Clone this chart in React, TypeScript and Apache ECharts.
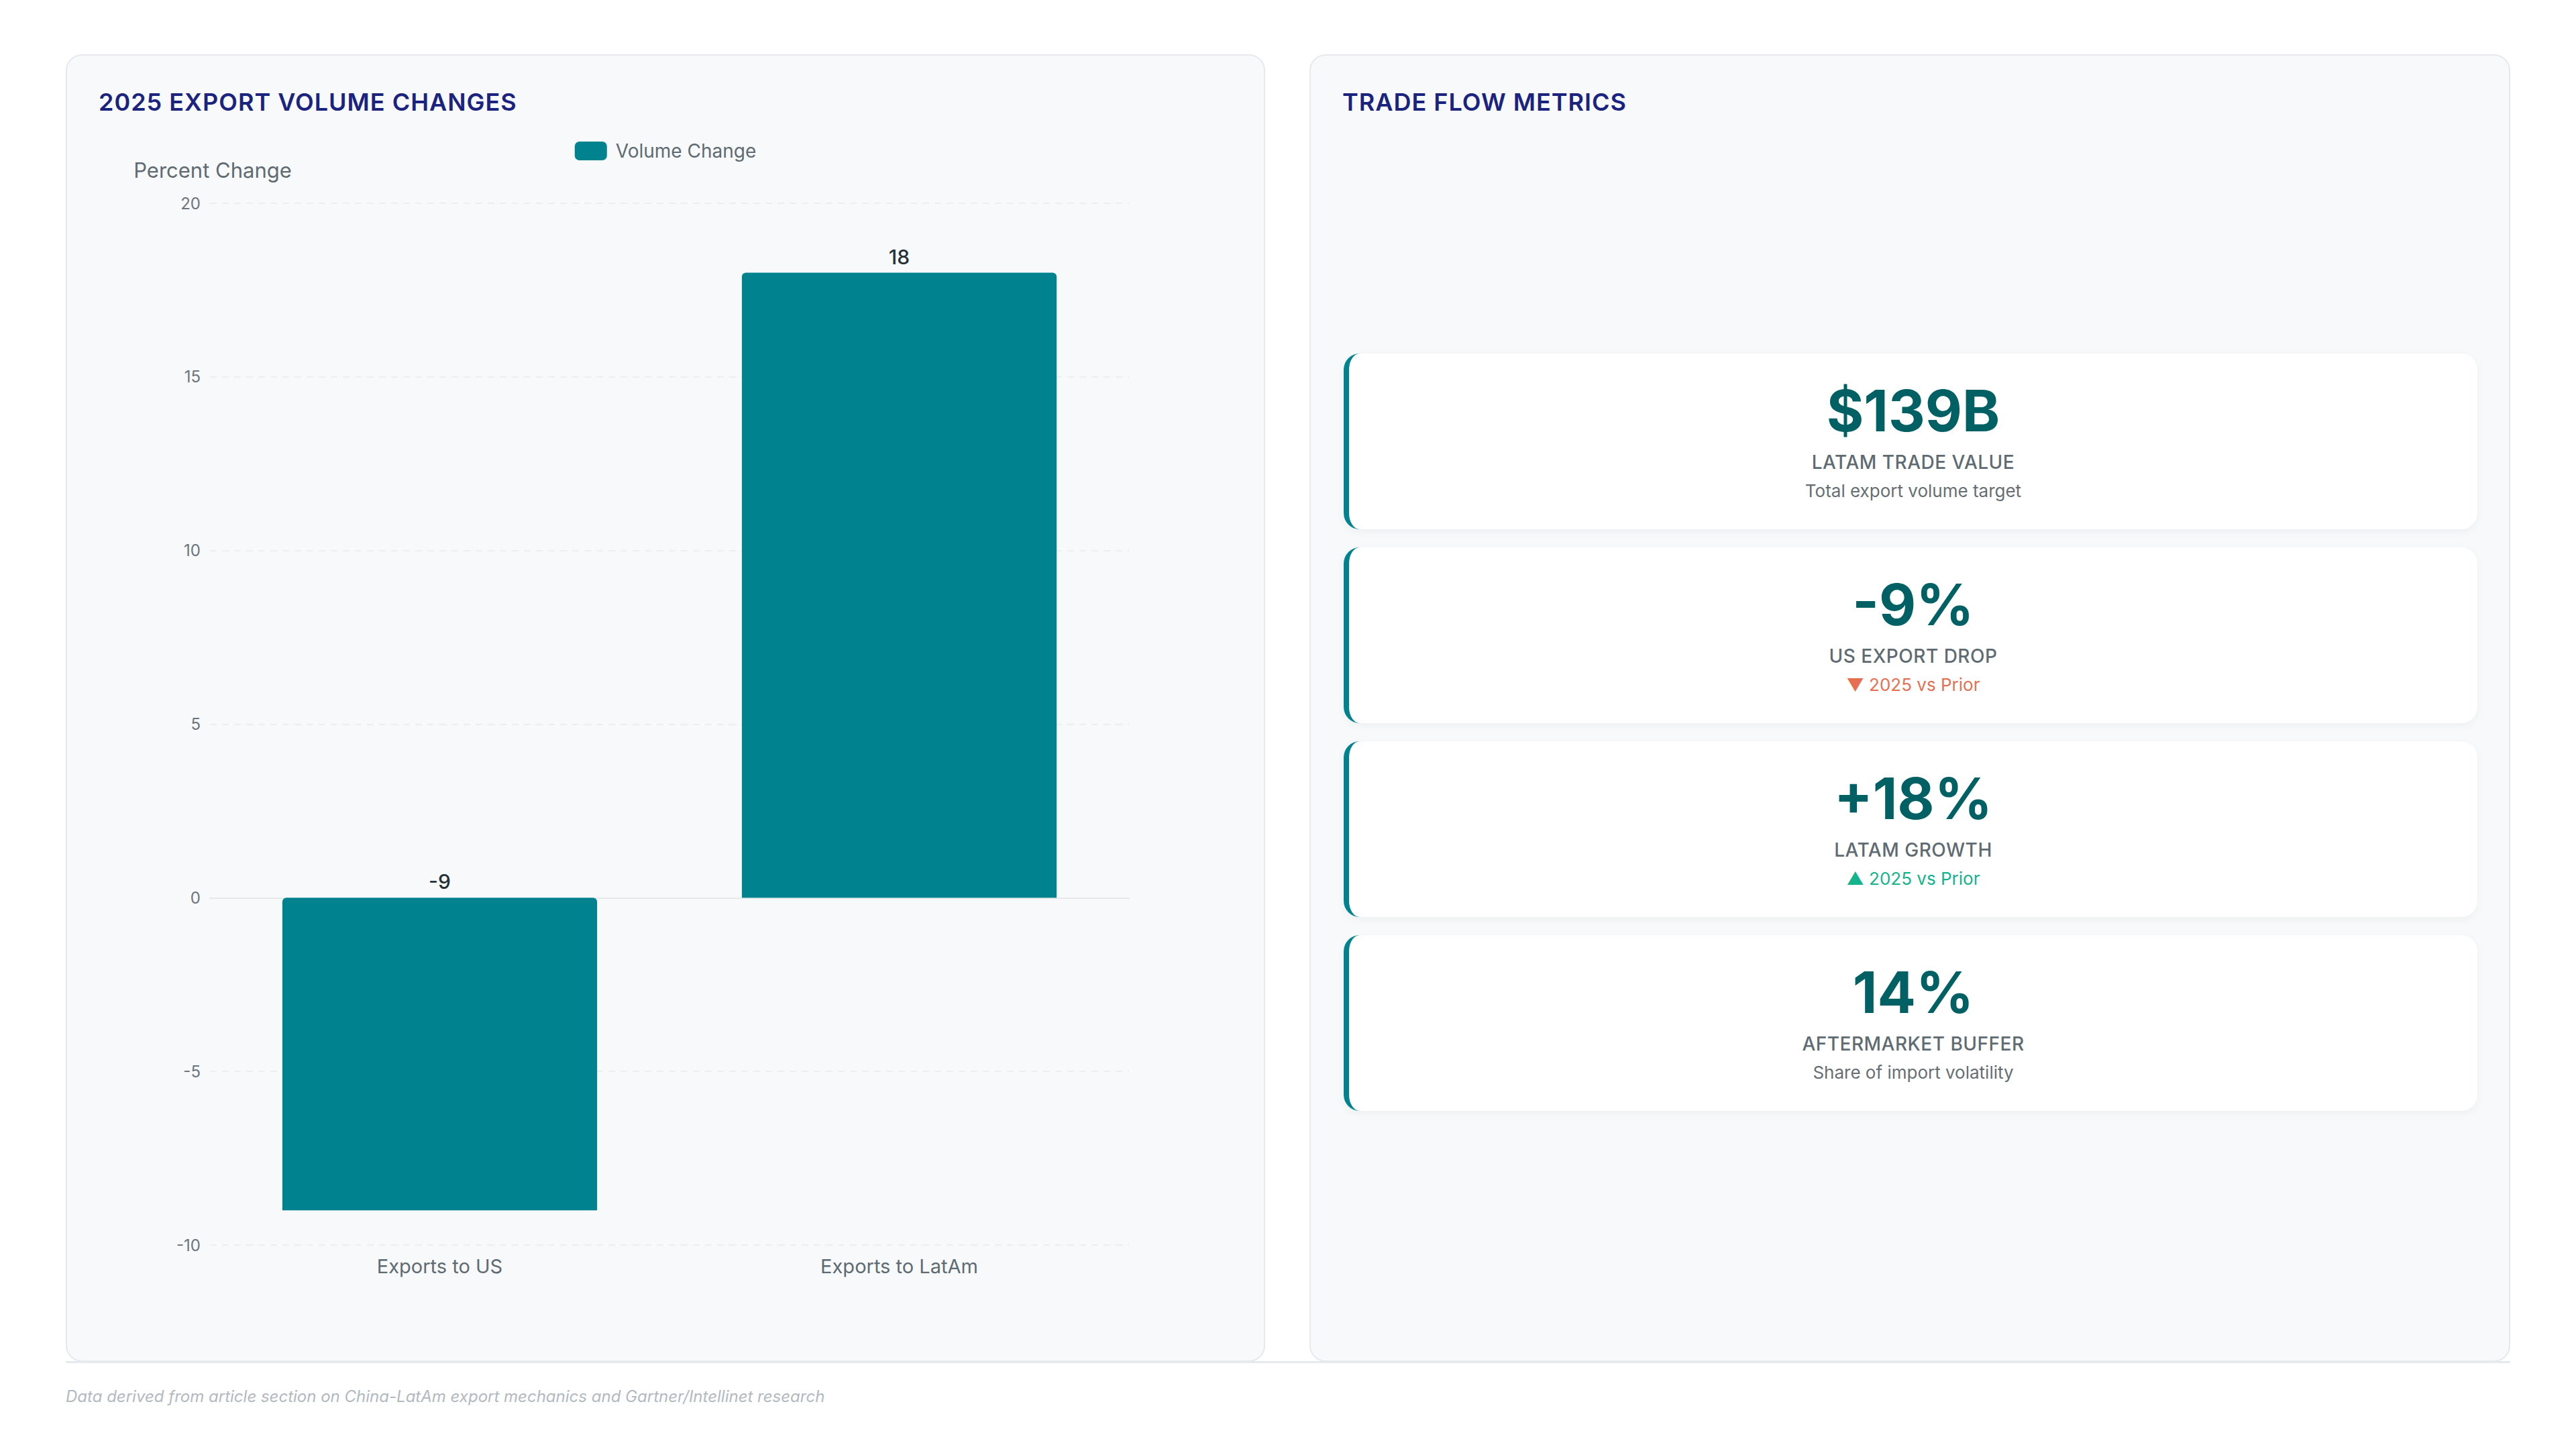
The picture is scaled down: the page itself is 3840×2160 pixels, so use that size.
import { useEffect, useRef } from 'react';
import * as echarts from 'echarts';

// chart data
const categories = ['Exports to US', 'Exports to LatAm'];
const volumeChange = [-9, 18];
const seriesName = 'Volume Change';
const yMin = -10;
const yMax = 20;
const yStep = 5;

// metric cards
const kpiValues = ['$139B', '-9%', '+18%', '14%'];
const kpiLabels = ['LATAM TRADE VALUE', 'US EXPORT DROP', 'LATAM GROWTH', 'AFTERMARKET BUFFER'];
const kpiNotes = ['Total export volume target', '▼ 2025 vs Prior', '▲ 2025 vs Prior', 'Share of import volatility'];
const kpiTones = ['neutral', 'down', 'up', 'neutral'];

const FONT = 'Inter, "Noto Sans", sans-serif';
const TEAL = '#00838f';
const GRAY = '#5f6b72';

const toneColor: Record<string, string> = {
  neutral: '#666e73',
  down: '#e76f51',
  up: '#14b38c',
};

const VolumeChart = () => {
  const chartRef = useRef<HTMLDivElement>(null);

  useEffect(() => {
    if (!chartRef.current) return;
    const chart = echarts.init(chartRef.current, null, { renderer: 'svg' });

    chart.setOption({
      animation: false,
      textStyle: { fontFamily: FONT },
      legend: {
        data: [seriesName],
        top: 123,
        left: 'center',
        icon: 'roundRect',
        itemWidth: 48,
        itemHeight: 28,
        textStyle: { fontSize: 28, color: GRAY, fontFamily: FONT, padding: [0, 0, 0, 8] },
      },
      grid: { left: 213, right: 201, top: 220, bottom: 172 },
      xAxis: {
        type: 'category',
        data: categories,
        axisLine: { show: true, lineStyle: { color: '#e6e8eb', width: 2 } },
        axisTick: { show: false },
        axisLabel: { fontSize: 29, color: GRAY, margin: 17, fontFamily: FONT },
      },
      yAxis: {
        type: 'value',
        min: yMin,
        max: yMax,
        interval: yStep,
        name: 'Percent Change',
        nameLocation: 'end',
        nameGap: 34,
        nameTextStyle: { fontSize: 31, color: GRAY, fontFamily: FONT, padding: [0, 0, 0, 8] },
        axisLine: { show: false },
        axisTick: { show: false },
        axisLabel: { fontSize: 24, color: '#6c757d', margin: 14, fontFamily: FONT },
        splitLine: { lineStyle: { color: '#eceef1', width: 2, type: [10, 8] } },
      },
      series: [
        {
          name: seriesName,
          type: 'bar',
          data: volumeChange,
          barWidth: '68.5%',
          itemStyle: { color: TEAL, borderRadius: [6, 6, 0, 0] },
          label: {
            show: true,
            position: 'top',
            distance: 9,
            fontSize: 30,
            fontWeight: 500,
            color: '#263238',
            fontFamily: FONT,
          },
        },
      ],
    });

    return () => {
      chart.dispose();
    };
  }, []);

  return <div ref={chartRef} style={{ position: 'absolute', left: 0, top: 0, width: '100%', height: '100%' }} />;
};

const cardStyle: React.CSSProperties = {
  position: 'absolute',
  top: 81,
  height: 1949,
  boxSizing: 'border-box',
  border: '2px solid #e6e9ed',
  borderRadius: 24,
  background: '#f8f9fb',
};

const titleStyle: React.CSSProperties = {
  position: 'absolute',
  left: 47,
  top: 47,
  lineHeight: '44px',
  fontSize: 36,
  fontWeight: 600,
  letterSpacing: 1,
  color: '#1a237e',
  whiteSpace: 'nowrap',
};

export default function App() {
  return (
    <div
      style={{
        position: 'fixed',
        left: 0,
        top: 0,
        width: 3840,
        height: 2160,
        background: '#ffffff',
        fontFamily: FONT,
        overflow: 'hidden',
      }}
    >
      <div style={{ ...cardStyle, left: 98, width: 1788 }}>
        <VolumeChart />
        <div style={titleStyle}>2025 EXPORT VOLUME CHANGES</div>
      </div>

      <div style={{ ...cardStyle, left: 1952, width: 1790 }}>
        <div style={titleStyle}>TRADE FLOW METRICS</div>
        <div style={{ position: 'absolute', left: 49, top: 444, width: 1690 }}>
          {kpiValues.map((v, i) => (
            <div
              key={v}
              style={{
                boxSizing: 'border-box',
                height: 262,
                marginBottom: 27,
                background: '#ffffff',
                borderRadius: 24,
                borderLeft: `8px solid ${TEAL}`,
                boxShadow: '0 4px 14px rgba(0,0,0,0.045)',
                textAlign: 'center',
                paddingTop: 36,
              }}
            >
              <div style={{ fontSize: 85, lineHeight: '100px', fontWeight: 700, color: '#006064' }}>{v}</div>
              <div
                style={{
                  marginTop: 6,
                  fontSize: 28,
                  lineHeight: '40px',
                  fontWeight: 500,
                  letterSpacing: 0.5,
                  color: GRAY,
                }}
              >
                {kpiLabels[i]}
              </div>
              <div style={{ marginTop: 5, fontSize: 26, lineHeight: '36px', color: toneColor[kpiTones[i]] }}>
                {kpiNotes[i]}
              </div>
            </div>
          ))}
        </div>
      </div>

      <div style={{ position: 'absolute', left: 98, top: 2029, width: 3644, height: 3, background: '#e6e9ed' }} />
      <div
        style={{
          position: 'absolute',
          left: 98,
          top: 2066,
          lineHeight: '32px',
          fontSize: 24,
          fontStyle: 'italic',
          color: '#b2b9bf',
          whiteSpace: 'nowrap',
        }}
      >
        Data derived from article section on China-LatAm export mechanics and Gartner/Intellinet research
      </div>
    </div>
  );
}
